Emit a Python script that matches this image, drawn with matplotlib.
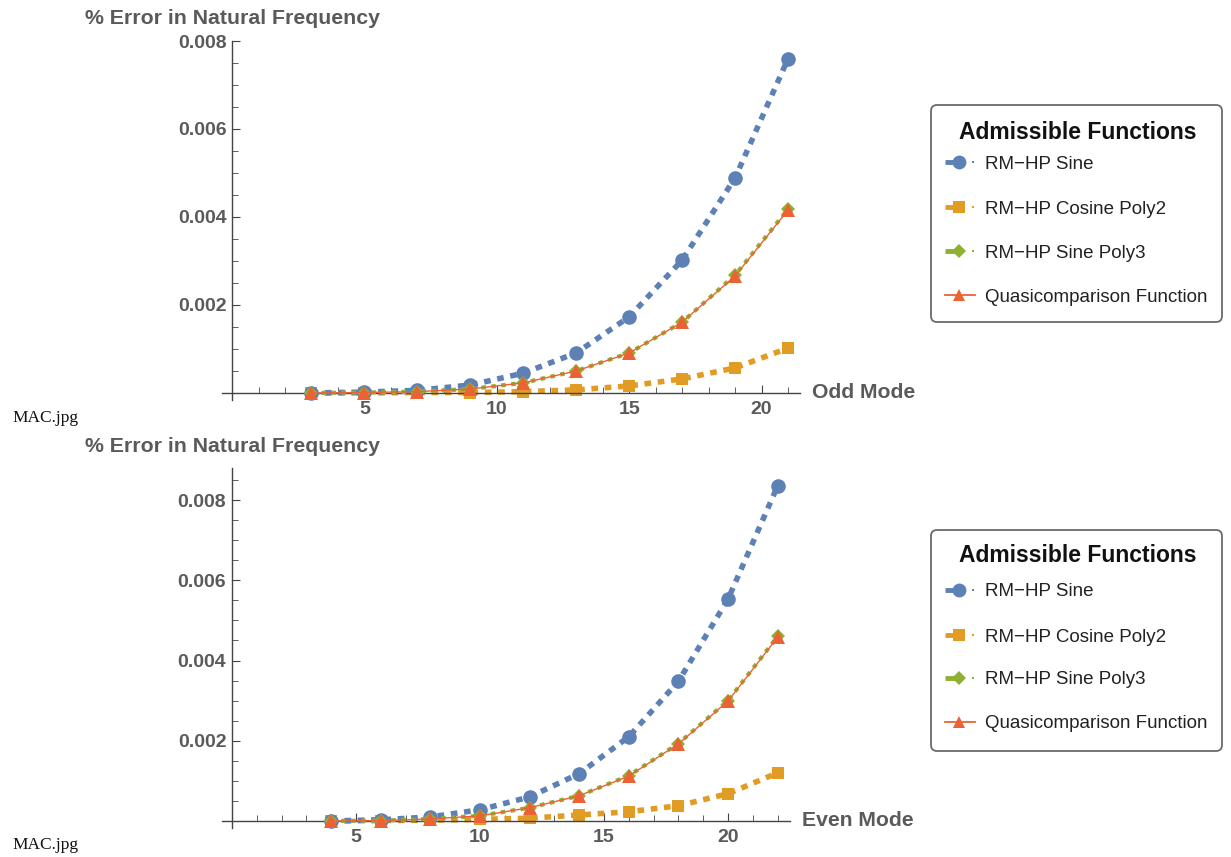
import matplotlib
matplotlib.use("Agg")
import matplotlib.pyplot as plt
from matplotlib.patches import FancyBboxPatch
from matplotlib.ticker import MultipleLocator, FixedLocator

plt.rcParams['font.family'] = ['Liberation Sans', 'DejaVu Sans']

# ---- data ----
odd_modes = [3, 5, 7, 9, 11, 13, 15, 17, 19, 21]
odd_sine = [0.0, 0.00002, 0.00006, 0.00018, 0.00045, 0.00091, 0.00173, 0.00302, 0.00489, 0.0076]
odd_cos_poly2 = [0.0, 0.0, 0.00001, 0.00001, 0.00003, 0.00007, 0.00016, 0.00032, 0.00057, 0.00102]
odd_sine_poly3 = [0.0, 0.00001, 0.00003, 0.00009, 0.00023, 0.0005, 0.00091, 0.00161, 0.00268, 0.00418]
odd_quasi = [0.0, 0.00001, 0.00003, 0.00009, 0.00023, 0.0005, 0.00091, 0.00161, 0.00266, 0.00416]

even_modes = [4, 6, 8, 10, 12, 14, 16, 18, 20, 22]
even_sine = [0.0, 0.00003, 0.0001, 0.00028, 0.0006, 0.00118, 0.0021, 0.00348, 0.00553, 0.00835]
even_cos_poly2 = [0.0, 0.00001, 0.00002, 0.00004, 0.00007, 0.00015, 0.00023, 0.00038, 0.00068, 0.0012]
even_sine_poly3 = [0.0, 0.00001, 0.00005, 0.00013, 0.00033, 0.00063, 0.00113, 0.00193, 0.003, 0.0046]
even_quasi = [0.0, 0.00001, 0.00005, 0.00013, 0.00033, 0.00063, 0.00112, 0.00192, 0.00299, 0.00458]

series_names = ["RM\u2212HP Sine", "RM\u2212HP Cosine Poly2", "RM\u2212HP Sine Poly3", "Quasicomparison Function"]
y_label = "% Error in Natural Frequency"
legend_title = "Admissible Functions"

C_BLUE = "#5E81B5"
C_ORANGE = "#E19C24"
C_GREEN = "#8FB032"
C_RED = "#EB6235"
GRAY = "#5a5a5a"

fig = plt.figure(figsize=(12.31, 8.57), dpi=100)
W, H = 1231, 857


def make_axes(px_left, px_right, px_top, px_bottom):
    return fig.add_axes([px_left / W, 1 - px_bottom / H, (px_right - px_left) / W, (px_bottom - px_top) / H])


def style_axes(ax, xlim, ylim):
    ax.set_xlim(*xlim)
    ax.set_ylim(*ylim)
    for s in ["top", "right"]:
        ax.spines[s].set_visible(False)
    ax.spines["left"].set_position(("data", 0))
    ax.spines["bottom"].set_position(("data", 0))
    for s in ["left", "bottom"]:
        ax.spines[s].set_color("#444444")
        ax.spines[s].set_linewidth(1.0)
    ax.xaxis.set_major_locator(FixedLocator([5, 10, 15, 20]))
    ax.xaxis.set_minor_locator(MultipleLocator(1))
    ax.yaxis.set_major_locator(FixedLocator([0.002, 0.004, 0.006, 0.008]))
    ax.yaxis.set_minor_locator(MultipleLocator(0.0005))
    ax.yaxis.set_major_formatter(matplotlib.ticker.FuncFormatter(lambda v, p: f"{v:.3f}"))
    ax.tick_params(axis="x", which="major", direction="in", length=6, color="#444444",
                   labelsize=14, labelcolor=GRAY, pad=6)
    ax.tick_params(axis="x", which="minor", direction="in", length=4, color="#444444")
    ax.tick_params(axis="y", which="major", direction="in", length=6, color="#444444",
                   labelsize=14, labelcolor=GRAY, pad=4)
    ax.tick_params(axis="y", which="minor", direction="in", length=4, color="#444444")
    for lab in ax.get_xticklabels() + ax.get_yticklabels():
        lab.set_fontweight("bold")
    ax.patch.set_visible(False)


def plot_series(ax, x, s1, s2, s3, s4):
    ax.plot(x, s2, color=C_ORANGE, lw=4, linestyle=(0, (1.2, 1.2)), marker="s", ms=9,
            markeredgewidth=0, zorder=2, clip_on=False)
    ax.plot(x, s1, color=C_BLUE, lw=4, linestyle=(0, (1.2, 1.2)), marker="o", ms=10.5,
            markeredgewidth=0, zorder=3, clip_on=False)
    ax.plot(x, s3, color=C_GREEN, lw=3, linestyle=(0, (1.1, 1.3)), marker="D", ms=7.5,
            markeredgewidth=0, zorder=4, clip_on=False)
    ax.plot(x, s4, color=C_RED, lw=1.0, linestyle="-", marker="^", ms=9.5,
            markeredgewidth=0, zorder=5, clip_on=False)


# top axes
ax1 = make_axes(222, 800, 41, 400)
style_axes(ax1, (-0.38, 21.45), (-0.00016, 0.008))
plot_series(ax1, odd_modes, odd_sine, odd_cos_poly2, odd_sine_poly3, odd_quasi)

# bottom axes
ax2 = make_axes(222, 790, 468, 828)
style_axes(ax2, (-0.4, 22.5), (-0.000175, 0.0088))
plot_series(ax2, even_modes, even_sine, even_cos_poly2, even_sine_poly3, even_quasi)

# axis labels
fig.text(85 / W, 1 - 18 / H, y_label, fontsize=15.3, fontweight="bold", color=GRAY, va="center", ha="left")
fig.text(85 / W, 1 - 447 / H, y_label, fontsize=15.3, fontweight="bold", color=GRAY, va="center", ha="left")
fig.text(812 / W, 1 - 392 / H, "Odd Mode", fontsize=15.2, fontweight="bold", color=GRAY, va="center", ha="left")
fig.text(802 / W, 1 - 820 / H, "Even Mode", fontsize=15.2, fontweight="bold", color=GRAY, va="center", ha="left")

# MAC.jpg captions
fig.text(12 / W, 1 - 418 / H, "MAC.jpg", fontsize=12.5, family="Liberation Serif", color="#111111", va="center")
fig.text(12 / W, 1 - 845 / H, "MAC.jpg", fontsize=12.5, family="Liberation Serif", color="#111111", va="center")

# ---- legends drawn in a pixel-coordinate overlay ----
ov = fig.add_axes([0, 0, 1, 1])
ov.set_xlim(0, W)
ov.set_ylim(H, 0)
ov.axis("off")
ov.patch.set_visible(False)

leg_styles = [
    dict(color=C_BLUE, marker="o", ms=10, solid=False),
    dict(color=C_ORANGE, marker="s", ms=8, solid=False),
    dict(color=C_GREEN, marker="D", ms=7, solid=False),
    dict(color=C_RED, marker="^", ms=9, solid=True),
]


def draw_legend(box_left, box_top, box_right, box_bottom, title_y, entry_ys):
    ov.add_patch(FancyBboxPatch((box_left, box_top), box_right - box_left, box_bottom - box_top,
                                boxstyle="round,pad=0,rounding_size=6", facecolor="white",
                                edgecolor="#6a6a6a", linewidth=1.3, zorder=1))
    ov.text((box_left + box_right) / 2 + 1, title_y, legend_title, fontsize=16.5, fontweight="bold",
            color="#111111", ha="center", va="center_baseline", zorder=3)
    for y, name, st in zip(entry_ys, series_names, leg_styles):
        if st["solid"]:
            ov.plot([945, 975], [y, y], color=st["color"], lw=1.3, zorder=2)
        else:
            ov.plot([945, 957], [y, y], color=st["color"], lw=3.5, solid_capstyle="butt", zorder=2)
            ov.plot([973], [y], color=st["color"], marker="s", ms=2, markeredgewidth=0, zorder=2)
        ov.plot([959], [y], color=st["color"], marker=st["marker"], ms=st["ms"], markeredgewidth=0, zorder=3)
        ov.text(985, y, name, fontsize=13.5, color="#222222", ha="left", va="center_baseline", zorder=3)


draw_legend(931, 105, 1222, 322, 130, [162, 207, 251, 295])
draw_legend(931, 530, 1222, 751, 553, [590, 635, 678, 722])

fig.savefig("out.png", dpi=100)
